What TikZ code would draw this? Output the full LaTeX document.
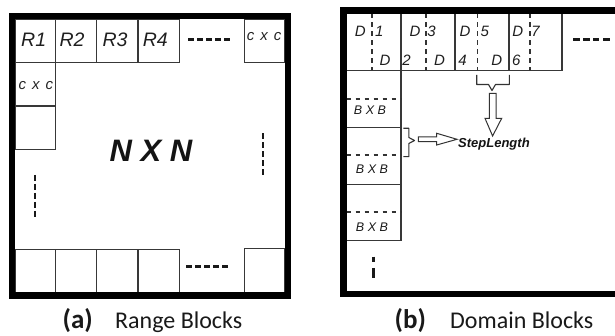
\documentclass[tikz,border=0pt]{standalone}
\usepackage{fontspec}
\setmainfont{Liberation Sans}
\newfontfamily\capfont{Carlito}
\begin{document}
\begin{tikzpicture}[x=1pt,y=-1pt,
  cell/.style={draw=black!78, line width=1.1pt},
  frame/.style={draw=black, line width=6.2pt, line join=miter},
  rlab/.style={inner sep=0pt, anchor=base, text=black!88, font=\itshape\fontsize{19.5}{20}\selectfont},
  clab/.style={inner sep=0pt, anchor=base, text=black!85, font=\itshape\fontsize{15}{16}\selectfont},
  dlab/.style={inner sep=0pt, anchor=base, text=black!88, font=\itshape\fontsize{15}{16}\selectfont},
  blab/.style={inner sep=0pt, anchor=base, text=black!90, font=\itshape\fontsize{12.5}{13}\selectfont},
  caplab/.style={inner sep=0pt, anchor=base west, text=black!90, font=\capfont\fontsize{24}{26}\selectfont},
  dots/.style={draw=black!90, line width=2.6pt, dash pattern=on 5.8pt off 3.2pt},
  vdash/.style={draw=black!80, line width=1.6pt, dash pattern=on 5pt off 4pt},
  hdash/.style={draw=black!80, line width=1.8pt, dash pattern=on 4pt off 5pt},
  hollow/.style={draw=black!80, line width=1pt, fill=white, line join=miter}
]
\clip (0,0) rectangle (615,336);
\fill[white] (0,0) rectangle (615,336);

% ================= (a) Range blocks =================
% top row
\draw[cell] (15,19) rectangle (55.3,62.3);
\draw[cell] (55.3,19) rectangle (96.7,62.3);
\draw[cell] (96.7,19) rectangle (138,62.3);
\draw[cell] (138,19) rectangle (179.3,62.3);
\draw[cell] (244.3,19) rectangle (285,62.3);
% left column
\draw[cell] (15,62.3) rectangle (55.3,106);
\draw[cell] (15,106) rectangle (55.3,149.3);
% bottom row
\draw[cell] (15,249.3) rectangle (55.3,292.7);
\draw[cell] (55.3,249.3) rectangle (96.7,292.7);
\draw[cell] (96.7,249.3) rectangle (138,292.7);
\draw[cell] (138,249.3) rectangle (179.3,292.7);
\draw[cell] (244.3,248.3) rectangle (285,292.7);
% frame
\draw[frame] (12,16.2) rectangle (287.6,295.5);

\node[rlab] (r1) at (33.7,46.7) {R1};
\node[rlab] (r2) at (72,46.7) {R2};
\node[rlab] (r3) at (115,46.7) {R3};
\node[rlab] (r4) at (155.3,46.7) {R4};
\node[clab] (ctr) at (264.2,41) {c\hspace{6pt}x\hspace{6pt}c};
\node[clab] (cl) at (35.8,89.3) {c\hspace{6pt}x\hspace{6pt}c};
\node[inner sep=0pt, anchor=base, text=black!92, font=\bfseries\itshape\fontsize{31}{32}\selectfont] (nxn) at (151,161.7) {N X N};

\coordinate (ta) at (188,39.3);  \coordinate (tb) at (230,39.3);
\draw[dots] (ta) -- (tb);
\coordinate (ba) at (186,266.7); \coordinate (bb) at (228.5,266.7);
\draw[dots] (ba) -- (bb);
\coordinate (la) at (35,175);    \coordinate (lb) at (35,218.5);
\draw[dots] (la) -- (lb);
\coordinate (ra) at (263,133.3); \coordinate (rb) at (263,176.5);
\draw[dots] (ra) -- (rb);

\node[caplab, font=\capfont\bfseries\fontsize{27}{28}\selectfont] (capa) at (62.5,328.3) {(a)};
\node[caplab] (capat) at (115,328.3) {Range Blocks};

% ================= (b) Domain blocks =================
% top row
\draw[cell] (346.7,13.3) rectangle (401,70.7);
\draw[cell] (401,13.3) rectangle (455,70.7);
\draw[cell] (455,13.3) rectangle (509,70.7);
\draw[cell] (509,13.3) rectangle (562,70.7);
% dashed sub-lines in top row
\draw[vdash] (371.7,13.3) -- (371.7,70.7);
\draw[vdash] (426,13.3) -- (426,70.7);
\draw[vdash] (477.3,13.3) -- (477.3,70.7);
\draw[vdash] (530,13.3) -- (530,70.7);
% left column
\draw[cell] (346.7,70.7) rectangle (401,127.7);
\draw[cell] (346.7,127.7) rectangle (401,184.3);
\draw[cell] (346.7,184.3) rectangle (401,240.7);
\draw[hdash] (346.7,99.3) -- (401,99.3);
\draw[hdash] (346.7,155) -- (401,155);
\draw[hdash] (346.7,212.3) -- (401,212.3);
% frame (right side cut off)
\draw[frame, line width=6.6pt] (640,10.3) -- (343.5,10.3) -- (343.5,294) -- (640,294);

% D labels
\node[dlab] (d1a) at (360.3,36.7) {D};  \node[dlab] (d1b) at (379.2,36.7) {1};
\node[dlab] (d3a) at (415,36.7) {D};    \node[dlab] (d3b) at (431.5,36.7) {3};
\node[dlab] (d5a) at (465,36.7) {D};    \node[dlab] (d5b) at (484.8,36.7) {5};
\node[dlab] (d7a) at (517.7,36.7) {D};  \node[dlab] (d7b) at (535.5,36.7) {7};
\node[dlab] (d2a) at (385,65.7) {D};    \node[dlab] (d2b) at (406.5,65.7) {2};
\node[dlab] (d4a) at (439.5,65.7) {D};  \node[dlab] (d4b) at (462.5,65.7) {4};
\node[dlab] (d6a) at (496.7,65.7) {D};  \node[dlab] (d6b) at (516.3,65.7) {6};

\node[blab] (b1) at (370,114.3) {B\hspace{3.5pt}X\hspace{3.5pt}B};
\node[blab] (b2) at (372,174) {B\hspace{3.5pt}X\hspace{3.5pt}B};
\node[blab] (b3) at (372,231.7) {B\hspace{3.5pt}X\hspace{3.5pt}B};

% continuation marks
\draw[draw=black!90, line width=3pt] (573.3,40) -- (579.5,40) (583.3,40) -- (589.5,40) (593,40) -- (598.5,40) (603,40) -- (610,40);
\draw[draw=black!90, line width=3.4pt] (373.3,256.7) -- (373.3,262) (373.3,268) -- (373.3,278.3);

% brace under D5 and hollow down arrow
\draw[draw=black!80, line width=1.1pt, line join=round] (476.7,75) -- (476.7,84.5) -- (488.5,84.5) -- (492,90.5) -- (495.5,84.5) -- (509.3,84.5) -- (509.3,75);
\draw[hollow] (489.3,93.3) -- (496,93.3) -- (496,118.3) -- (501.7,118.3) -- (492.6,136) -- (485,118.3) -- (489.3,118.3) -- cycle;

% brace right of column and hollow right arrow
\draw[draw=black!80, line width=1.1pt, line join=round] (403.3,128.3) -- (408.8,128.3) -- (408.8,137.5) -- (414.5,140.5) -- (408.8,143.5) -- (408.8,156.7) -- (403.3,156.7);
\draw[hollow] (418.3,136.9) -- (436.7,136.9) -- (436.7,133.3) -- (457,139.3) -- (436.7,145) -- (436.7,141.7) -- (418.3,141.7) -- cycle;
\node[inner sep=0pt, anchor=base west, text=black!92, font=\bfseries\itshape\fontsize{13}{14}\selectfont] (step) at (458,147.7) {StepLength};

\node[caplab, font=\capfont\bfseries\fontsize{27}{28}\selectfont] (capb) at (394.5,328.3) {(b)};
\node[caplab] (capbt) at (450,328.3) {Domain Blocks};
\end{tikzpicture}
\end{document}
